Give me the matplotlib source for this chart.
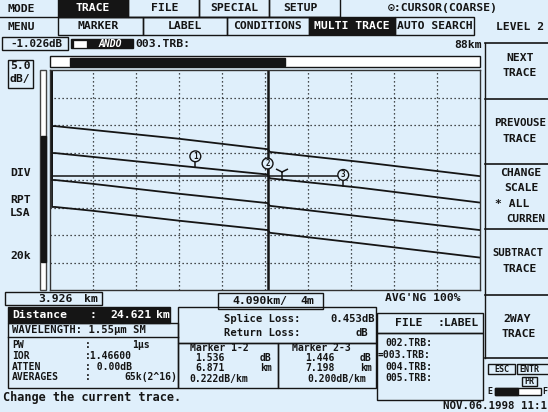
import matplotlib
matplotlib.use('Agg')
import matplotlib.pyplot as plt
import numpy as np
from matplotlib.patches import Rectangle

W, H = 548, 412
BG = '#dfeffb'
INK = '#151515'
FONT = ['DejaVu Sans Mono', 'DejaVu Sans']

# ---------------- data (km, dB) ----------------
dist_km = [4.4, 8.0, 16.2, 24.62, 24.85, 33.4, 44.8]
trace_002 = [29.8, 29.1, 27.5, 25.6, 25.1, 23.3, 20.7]
trace_003 = [24.9, 24.2, 22.6, 21.0, 20.3, 18.6, 15.9]
trace_004 = [20.0, 19.3, 17.5, 15.8, 15.3, 13.4, 10.9]
trace_005 = [15.1, 14.4, 12.6, 10.9, 10.4, 8.5, 5.9]
launch_km = 4.12
launch_top_db = 39.8
start_km = 3.926
km_per_div = 4.090
db_per_div = 5.0
n_xdiv = 10
n_ydiv = 8
cursor_km = 24.621
marker_km = [17.750, 24.621, 31.819]
marker_labels = ['1', '2', '3']
lsa_db = 20.7
lsa_symbol_km = 26.0

# ---------------- figure ----------------
fig = plt.figure(figsize=(W / 100, H / 100), dpi=100)
fig.patch.set_facecolor(BG)
bg = fig.add_axes([0, 0, 1, 1])
bg.set_xlim(0, W)
bg.set_ylim(H, 0)
bg.axis('off')


def box(x0, y0, x1, y1, fc='none', ec=INK, lw=1.0):
    bg.add_patch(Rectangle((x0, y0), x1 - x0, y1 - y0, fc=fc, ec=ec, lw=lw))


def txt(x, y, s, ha='left', color=INK, size=8.2, **kw):
    bg.text(x, y, s, ha=ha, va='center', color=color, fontsize=size,
            family=FONT, weight='bold', **kw)


def hline(y, x0, x1, lw=1.0):
    bg.plot([x0, x1], [y, y], color=INK, lw=lw)


def vline(x, y0, y1, lw=1.0):
    bg.plot([x, x], [y0, y1], color=INK, lw=lw)


SM = 7.0  # size for dense rows

# --- top menu row 1 ---
hline(17, 0, 340)
txt(7, 9, 'MODE')
box(58, -2, 128, 17, fc=INK)
txt(93, 8, 'TRACE', ha='center', color='white')
box(128, -2, 199, 17)
txt(165, 8, 'FILE', ha='center')
box(199, -2, 269, 17)
txt(234, 8, 'SPECIAL', ha='center')
box(269, -2, 340, 17)
txt(300, 8, 'SETUP', ha='center')
txt(388, 8, '\u2299:CURSOR(COARSE)')

# --- row 2 ---
txt(7, 27, 'MENU')
box(58, 17, 143, 35)
txt(98, 26, 'MARKER', ha='center')
box(143, 17, 227, 35)
txt(185, 26, 'LABEL', ha='center')
box(227, 17, 309, 35)
txt(267, 26, 'CONDITIONS', ha='center')
box(309, 17, 395, 35, fc=INK)
txt(352, 26, 'MULTI TRACE', ha='center', color='white')
box(395, 17, 474, 35)
txt(435, 26, 'AUTO SEARCH', ha='center')
txt(520, 27, 'LEVEL 2', ha='center')

# --- row 3 ---
box(2, 37, 68, 50)
txt(36, 43.5, '-1.026dB', ha='center', size=7.8)
box(71, 39, 133, 48, fc=INK)
box(74, 40.5, 86, 46.5, fc='white', ec='white', lw=0.5)
txt(110, 43.5, 'ANDO', ha='center', color='white', size=7.0, style='italic')
txt(135, 43.5, '003.TRB:')
txt(482, 45, '88km', ha='right')

# progress bar
box(50, 56, 480, 67, fc='white')
box(70, 58, 285, 66, fc=INK)

# --- left panel ---
box(8, 60, 33, 88)
txt(20, 66, '5.0', ha='center')
txt(20, 79, 'dB/', ha='center')
txt(10, 173, 'DIV')
txt(10, 200, 'RPT')
txt(10, 213, 'LSA')
txt(10, 256, '20k')
box(40, 70, 46, 290, fc='white', ec='#444444')
box(40.5, 136, 45.5, 262, fc=INK, ec=INK)

# --- right panel ---
vline(485, 43, 358)
for yy in [43, 99, 164, 229, 295, 358]:
    hline(yy, 485, 548, lw=1.2)
txt(520, 58, 'NEXT', ha='center')
txt(520, 73, 'TRACE', ha='center')
txt(520, 123, 'PREVOUSE', ha='center', size=7.8)
txt(520, 139, 'TRACE', ha='center')
txt(521, 173, 'CHANGE', ha='center')
txt(521, 188, 'SCALE', ha='center')
txt(495, 204, '* ALL')
txt(506, 219, 'CURREN', size=7.8)
txt(492, 253, 'SUBTRACT', size=7.6)
txt(520, 269, 'TRACE', ha='center')
txt(517, 319, '2WAY', ha='center')
txt(519, 334, 'TRACE', ha='center')
box(488, 364, 515, 374)
txt(501.5, 369, 'ESC', ha='center', size=6.0)
box(517, 364, 552, 374)
txt(519, 369, 'ENTR', size=6.0)
box(522, 377, 537, 386)
txt(529.5, 381.5, 'PR', ha='center', size=6.0)
txt(487, 391, 'E', size=6.0)
box(495, 388, 541, 394.5, fc='white')
box(495, 388, 518, 394.5, fc=INK)
txt(542, 391, 'F', size=6.0)

# --- bottom area ---
box(5, 292, 102, 305)
txt(55, 298.5, '3.926', ha='center')
txt(84, 298.5, 'km')
box(218, 293, 323, 309)
txt(232, 301, '4.090km/')
txt(300, 301, '4m')
txt(385, 298, "AVG'NG 100%")

box(8, 307, 170, 323, fc=INK)
txt(12, 315, 'Distance', color='white')
txt(90, 315, ':', color='white')
txt(110, 315, '24.621', color='white')
txt(156, 315, 'km', color='white')

box(8, 323, 178, 388)
hline(337, 8, 178)
txt(12, 330, 'WAVELENGTH: 1.55\u03bcm SM', size=7.6)
rows = [('PW', ':', '1\u03bcs', 132), ('IOR', ':1.46600', '', 0),
        ('ATTEN', ': 0.00dB', '', 0), ('AVERAGES', ':', '65k(2^16)', 124)]
for i, (a, b, c, cx) in enumerate(rows):
    yy = 345 + i * 10.8
    txt(12, yy, a, size=SM)
    txt(85, yy, b, size=SM)
    if c:
        txt(cx, yy, c, size=SM)
txt(3, 398, 'Change the current trace.', size=8.6)

box(178, 307, 376, 343)
txt(224, 319, 'Splice Loss:', size=7.6)
txt(330, 319, '0.453dB', size=7.6)
txt(224, 333, 'Return Loss:', size=7.6)
txt(356, 333, 'dB', size=7.6)

box(178, 343, 278, 388)
box(278, 343, 376, 388)
txt(190, 348, 'Marker 1-2', size=SM)
txt(195, 358, '1.536', size=SM)
txt(260, 358, 'dB', size=SM)
txt(195, 368, '6.871', size=SM)
txt(260, 368, 'km', size=SM)
txt(189, 379, '0.222dB/km', size=SM)
txt(292, 348, 'Marker 2-3', size=SM)
txt(305, 358, '1.446', size=SM)
txt(360, 358, 'dB', size=SM)
txt(305, 368, '7.198', size=SM)
txt(360, 368, 'km', size=SM)
txt(307, 379, '0.200dB/km', size=SM)

box(377, 313, 483, 333)
txt(395, 323, 'FILE')
txt(437, 323, ':LABEL')
box(377, 333, 483, 400)
txt(385, 343, '002.TRB:', size=SM)
txt(378, 355, '=003.TRB:', size=SM)
txt(385, 367, '004.TRB:', size=SM)
txt(385, 378, '005.TRB:', size=SM)
txt(547, 406, 'NOV.06.1998 11:1', ha='right', size=7.8)

# ---------------- trace plot ----------------
ax = fig.add_axes([50 / W, 1 - 290 / H, 430 / W, 220 / H])
ax.patch.set_alpha(0)
x_end = start_km + n_xdiv * km_per_div
y_top = n_ydiv * db_per_div
ax.set_xlim(start_km, x_end)
ax.set_ylim(0, y_top)
ax.set_xticks([])
ax.set_yticks([])
for s in ax.spines.values():
    s.set_color('#333333')
    s.set_linewidth(1.0)

for k in range(1, n_xdiv):
    ax.axvline(start_km + k * km_per_div, color=INK, lw=0.9, ls=(0, (1, 2.2)))
for k in range(1, n_ydiv):
    ax.axhline(k * db_per_div, color=INK, lw=0.9, ls=(0, (1, 2.2)))

for tr in [trace_002, trace_003, trace_004, trace_005]:
    xs = [launch_km, launch_km] + dist_km
    ys = [launch_top_db, tr[0]] + tr
    ax.plot(xs, ys, color=INK, lw=1.3, solid_joinstyle='miter')

# LSA reference line
ax.plot([start_km, marker_km[2]], [lsa_db, lsa_db], color=INK, lw=1.1)
ax.plot([lsa_symbol_km], [lsa_db + 0.7], marker='1', ms=10, mew=1.1, color=INK)

# cursor
ax.axvline(cursor_km, color=INK, lw=1.8)

# markers on current trace
for km, lab in zip(marker_km, marker_labels):
    d = np.interp(km, dist_km, trace_003)
    ax.plot([km, km], [d, d + 1.2], color=INK, lw=1.1)
    ax.text(km, d + 2.0, lab, ha='center', va='center', fontsize=5.5,
            family=FONT, weight='bold', color=INK,
            bbox=dict(boxstyle='circle,pad=0.12', fc=BG, ec=INK, lw=1.0))

fig.savefig('out.png', dpi=100, facecolor=BG)
